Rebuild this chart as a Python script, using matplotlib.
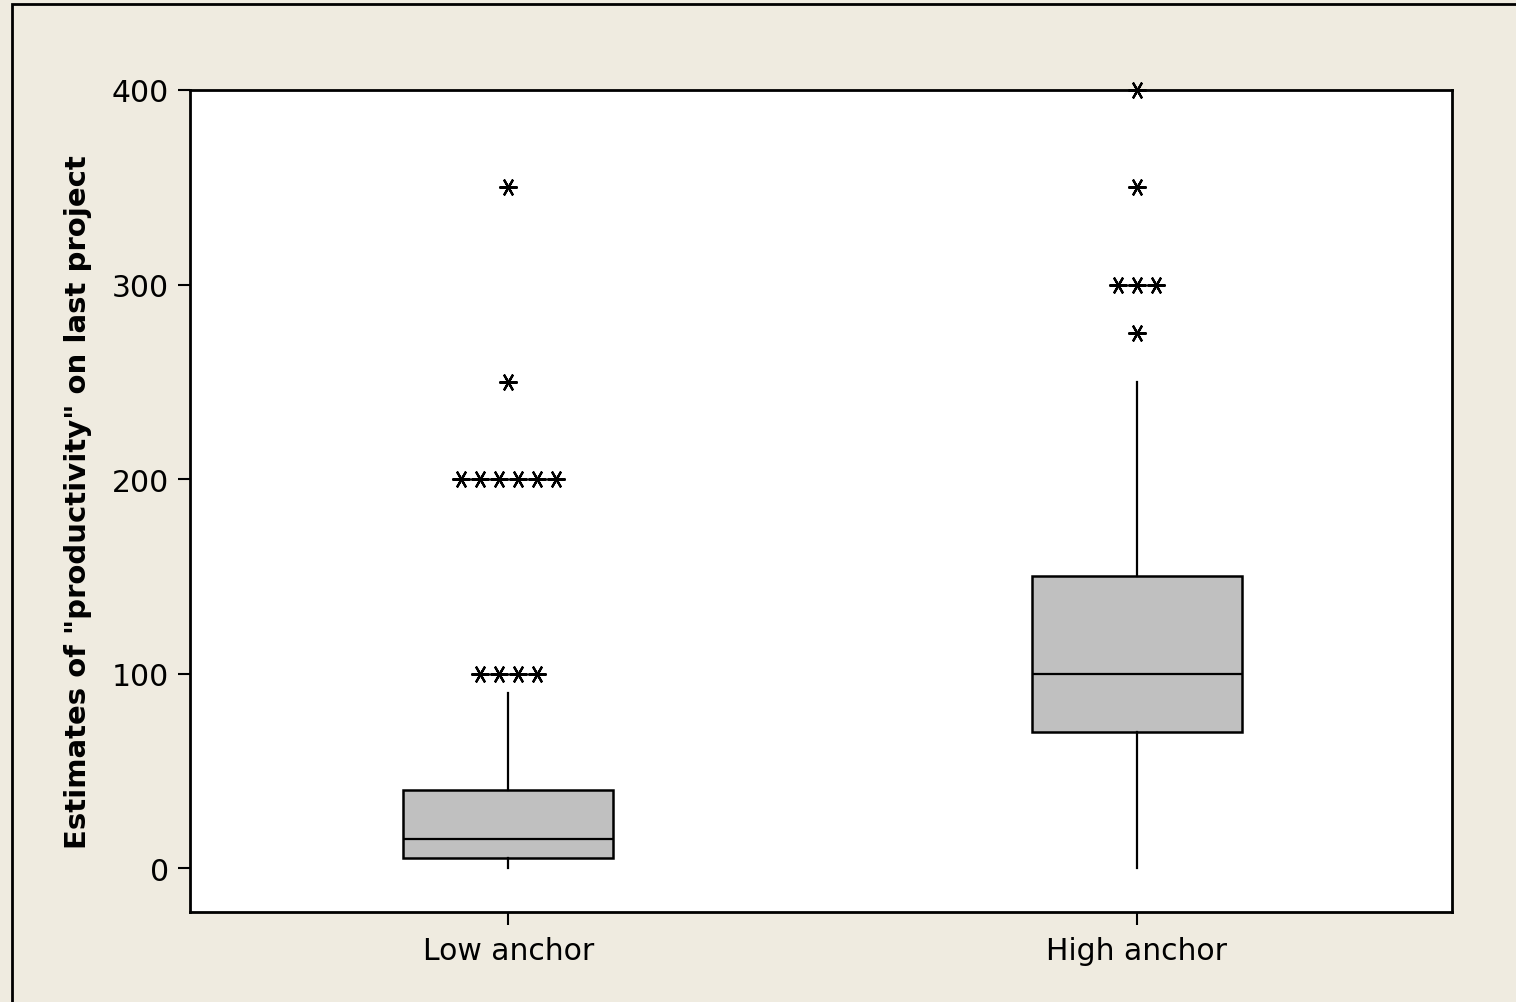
import matplotlib
matplotlib.use("Agg")
import matplotlib.pyplot as plt
from matplotlib.patches import Rectangle

# data (Minitab-style boxplot)
groups = ["Low anchor", "High anchor"]
whisker_low = [0, 0]
q1 = [5, 70]
median = [15, 100]
q3 = [40, 150]
whisker_high = [90, 250]
# outliers: value -> count of tied points
low_outliers = {100: 4, 200: 6, 250: 1, 350: 1}
high_outliers = {275: 1, 300: 3, 350: 1, 400: 1}
yticks = [0, 100, 200, 300, 400]

bg = "#efebe0"
plt.rcParams["font.family"] = ["DejaVu Sans"]

fig = plt.figure(figsize=(15.16, 10.03), dpi=100, facecolor=bg)
ax = fig.add_axes([190 / 1516, 1 - 913 / 1003, (1452 - 190) / 1516, (913 - 91) / 1003])
ax.set_facecolor("white")

stats = []
for i in range(len(groups)):
    stats.append({
        "label": groups[i],
        "whislo": whisker_low[i],
        "q1": q1[i],
        "med": median[i],
        "q3": q3[i],
        "whishi": whisker_high[i],
        "fliers": [],
    })

ax.bxp(stats, positions=[1, 2], widths=0.335, patch_artist=True, showcaps=False,
       showfliers=False,
       boxprops=dict(facecolor="#c0c0c0", edgecolor="black", linewidth=1.8),
       medianprops=dict(color="black", linewidth=1.6),
       whiskerprops=dict(color="black", linewidth=1.6))

# tied outliers are spread side by side
step = 0.0302
for pos, outl in zip([1, 2], [low_outliers, high_outliers]):
    for val, n in outl.items():
        xs = [pos + (k - (n - 1) / 2) * step for k in range(n)]
        ax.plot(xs, [val] * n, linestyle="none", marker=(6, 2, 90),
                markersize=13, markeredgewidth=1.6, color="black", clip_on=False)

ax.set_xlim(0.494, 2.501)
ax.set_ylim(-22.6, 400)
ax.set_yticks(yticks)
ax.set_xticks([1, 2])
ax.set_xticklabels(groups)
ax.tick_params(axis="both", labelsize=21.5, length=9, width=1.5, direction="out", pad=6)
ax.tick_params(axis="x", pad=8)
for s in ax.spines.values():
    s.set_linewidth(2)

ax.set_ylabel('Estimates of "productivity" on last project', fontsize=21,
              fontweight="bold", labelpad=14)

# outer frame line on left and top
fig.patches.append(Rectangle((12 / 1516, -0.1), 1.2, 1.1 - 4.5 / 1003, transform=fig.transFigure,
                             fill=False, edgecolor="black", linewidth=2))

fig.savefig("out.png", dpi=100, facecolor=bg)
